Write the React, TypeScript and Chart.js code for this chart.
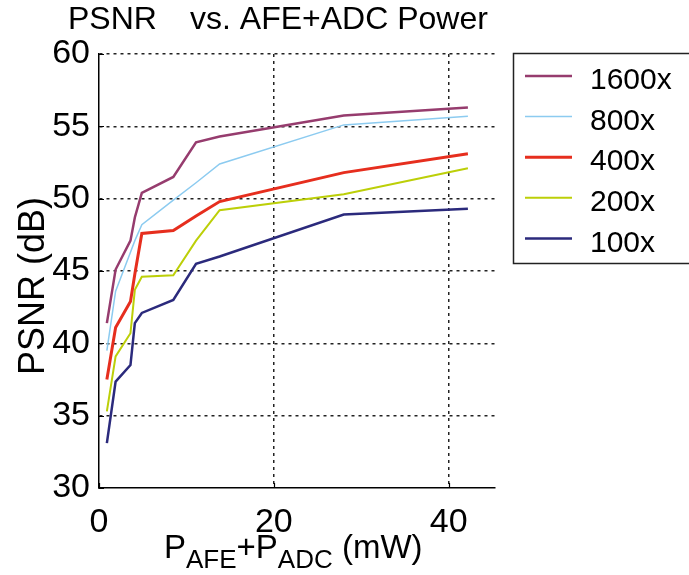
import { useEffect, useRef } from "react";
import { Chart, registerables } from "chart.js";

Chart.register(...registerables);

const FONT = '"Liberation Sans", Arial, Helvetica, sans-serif';

// Data
const powerMW = [0.9, 1.9, 3.6, 4.1, 4.9, 8.5, 11.1, 13.8, 28, 42.2];
const psnr1600 = [41.4, 45.1, 47.1, 48.7, 50.4, 51.5, 53.9, 54.3, 55.75, 56.3];
const psnr800 = [39.5, 43.6, 46.3, 47.1, 48.2, 49.9, 51.1, 52.4, 55.1, 55.7];
const psnr400 = [37.5, 41.1, 42.9, 44.8, 47.6, 47.8, 48.8, 49.8, 51.8, 53.1];
const psnr200 = [35.3, 39.1, 40.7, 43.7, 44.6, 44.7, 47.1, 49.2, 50.3, 52.1];
const psnr100 = [33.1, 37.35, 38.5, 41.4, 42.1, 43.0, 45.5, 46.0, 48.9, 49.3];

const seriesLabels = ["1600x", "800x", "400x", "200x", "100x"];
const seriesValues = [psnr1600, psnr800, psnr400, psnr200, psnr100];
const seriesColors = ["#963c6e", "#8ccbf0", "#e62e1e", "#bccf08", "#2b2a7c"];
const seriesWidths = [2.5, 1.5, 3, 2, 2.5];

const xTicks = [0, 20, 40];
const yTicks = [30, 35, 40, 45, 50, 55, 60];

const titleLeft = "PSNR";
const titleRight = "vs. AFE+ADC Power";
const yTitle = "PSNR (dB)";

const decorPlugin = {
  id: "decor",
  afterDraw(chart: any) {
    const ctx = chart.ctx as CanvasRenderingContext2D;
    const { left, bottom } = chart.chartArea;
    const xs = chart.scales.x;
    const ys = chart.scales.y;
    ctx.save();

    // inward tick marks
    ctx.strokeStyle = "#000";
    ctx.lineWidth = 1.2;
    ctx.setLineDash([]);
    ctx.beginPath();
    for (const v of xTicks) {
      const px = Math.round(xs.getPixelForValue(v)) + 0.5;
      ctx.moveTo(px, bottom);
      ctx.lineTo(px, bottom - 5);
    }
    for (const v of yTicks) {
      const py = Math.round(ys.getPixelForValue(v)) + 0.5;
      ctx.moveTo(left, py);
      ctx.lineTo(left + 5, py);
    }
    ctx.stroke();

    // title
    ctx.fillStyle = "#000";
    ctx.textAlign = "left";
    ctx.textBaseline = "alphabetic";
    ctx.font = `32px ${FONT}`;
    ctx.fillText(titleLeft, 68, 29);
    ctx.fillText(titleRight, 190, 29);

    // y title
    ctx.save();
    ctx.translate(44, 286);
    ctx.rotate(-Math.PI / 2);
    ctx.textAlign = "center";
    ctx.font = `36px ${FONT}`;
    ctx.fillText(yTitle, 0, 0);
    ctx.restore();

    // x title with subscripts
    const base = 558;
    const big = `33px ${FONT}`;
    const small = `26px ${FONT}`;
    const parts: [string, string, number][] = [
      ["P", big, 0],
      ["AFE", small, 10],
      ["+P", big, 0],
      ["ADC", small, 10],
      [" (mW)", big, 0],
    ];
    let x = 164;
    for (const [t, f, dy] of parts) {
      ctx.font = f;
      ctx.fillText(t, x, base + dy);
      x += ctx.measureText(t).width;
    }

    // legend box
    ctx.strokeStyle = "#222";
    ctx.lineWidth = 1.5;
    ctx.beginPath();
    ctx.moveTo(690, 53.5);
    ctx.lineTo(513.5, 53.5);
    ctx.lineTo(513.5, 263.5);
    ctx.lineTo(690, 263.5);
    ctx.stroke();

    ctx.font = `30px ${FONT}`;
    ctx.textBaseline = "middle";
    chart.data.datasets.forEach((ds: any, i: number) => {
      const ly = 76 + i * 40.6;
      ctx.strokeStyle = ds.borderColor;
      ctx.lineWidth = ds.borderWidth;
      ctx.beginPath();
      ctx.moveTo(525, ly);
      ctx.lineTo(572, ly);
      ctx.stroke();
      ctx.fillStyle = "#000";
      ctx.fillText(ds.label, 590, ly + 5);
    });

    ctx.restore();
  },
};

export default function App() {
  const ref = useRef<HTMLCanvasElement>(null);

  useEffect(() => {
    if (!ref.current) return;
    const gridColor = (v: number) => (c: any) =>
      c.tick && c.tick.value === v ? "rgba(0,0,0,0)" : "#222";
    const chart = new Chart(ref.current, {
      type: "line",
      data: {
        datasets: seriesLabels.map((label, i) => ({
          label,
          data: powerMW.map((x, j) => ({ x, y: seriesValues[i][j] })),
          borderColor: seriesColors[i],
          backgroundColor: seriesColors[i],
          borderWidth: seriesWidths[i],
          pointRadius: 0,
          fill: false,
          tension: 0,
        })),
      },
      options: {
        animation: false,
        responsive: false,
        devicePixelRatio: 1,
        layout: { padding: { top: 54, right: 194, left: 0, bottom: 0 } },
        plugins: {
          legend: { display: false },
          tooltip: { enabled: false },
          title: { display: false },
        },
        scales: {
          x: {
            type: "linear",
            min: 0,
            max: 45.3,
            afterBuildTicks: (s: any) => {
              s.ticks = xTicks.map((v) => ({ value: v }));
            },
            afterFit: (s: any) => {
              s.height = 87;
            },
            grid: {
              color: gridColor(0),
              lineWidth: 1.5,
              drawTicks: false,
            },
            border: { display: true, color: "#000", width: 1.5, dash: [3, 4] },
            ticks: {
              color: "#000",
              font: { size: 34, family: FONT },
              padding: 14,
              maxRotation: 0,
            },
          },
          y: {
            type: "linear",
            min: 30,
            max: 60,
            afterBuildTicks: (s: any) => {
              s.ticks = yTicks.map((v) => ({ value: v }));
            },
            afterFit: (s: any) => {
              s.width = 99;
            },
            grid: {
              color: gridColor(30),
              lineWidth: 1.5,
              drawTicks: false,
            },
            border: { display: true, color: "#000", width: 1.5, dash: [3, 4] },
            ticks: {
              color: "#000",
              font: { size: 34, family: FONT },
              padding: 9,
            },
          },
        },
      },
      plugins: [decorPlugin],
    } as any);
    return () => chart.destroy();
  }, []);

  return (
    <div style={{ position: "fixed", left: 0, top: 0, width: 689, height: 575, background: "#fff" }}>
      <canvas ref={ref} width={689} height={575} />
    </div>
  );
}
